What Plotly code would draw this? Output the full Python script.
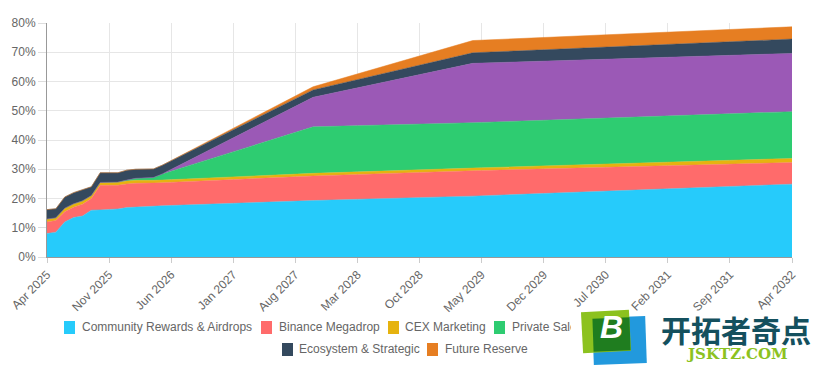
import plotly.graph_objects as go

# ---- axis labels ----
months = []
_names = ["Jan","Feb","Mar","Apr","May","Jun","Jul","Aug","Sep","Oct","Nov","Dec"]
for _i in range(85):
    _m = 3 + _i
    months.append(f"{_names[_m % 12]} {2025 + _m // 12}")
tick_labels = months[::7]
y_ticks = [0, 10, 20, 30, 40, 50, 60, 70, 80]

# ---- knot months (cumulative unlock curves change slope here) ----
knots = ["Apr 2025","May 2025","Jun 2025","Jul 2025","Aug 2025","Sep 2025","Oct 2025","Nov 2025",
         "Dec 2025","Jan 2026","Feb 2026","Apr 2026","May 2026","Oct 2027","Apr 2029","Apr 2032"]

# ---- series values, % of supply (height of each layer) ----
community = [8.0, 8.5, 12.0, 13.5, 14.0, 16.0, 16.1, 16.2, 16.4, 16.9, 17.1, 17.4, 17.5, 19.3, 20.8, 24.9]
binance   = [4.0, 4.0, 3.5, 3.5, 4.0, 4.0, 8.4, 8.3, 8.1, 8.1, 8.1, 7.9, 7.9, 8.4, 8.7, 7.4]
cex       = [1.0, 0.9, 1.2, 1.2, 1.2, 1.0, 1.0, 1.0, 1.1, 1.0, 1.0, 0.9, 0.9, 0.9, 0.9, 1.4]
private   = [0.0, 0.0, 0.0, 0.0, 0.0, 0.0, 0.0, 0.0, 0.0, 0.3, 0.7, 1.0, 2.1, 15.9, 15.5, 16.0]
purple    = [0.0, 0.0, 0.0, 0.0, 0.0, 0.0, 0.0, 0.0, 0.0, 0.0, 0.0, 0.0, 0.0, 10.1, 20.3, 19.9]
ecosystem = [3.2, 3.1, 3.8, 3.8, 3.8, 3.0, 3.3, 3.3, 3.2, 3.4, 3.1, 2.9, 3.0, 2.5, 3.6, 4.9]
reserve   = [0.0, 0.0, 0.0, 0.0, 0.0, 0.0, 0.0, 0.0, 0.0, 0.0, 0.0, 0.0, 0.0, 1.1, 4.2, 4.2]

series_names = ["Community Rewards & Airdrops", "Binance Megadrop", "CEX Marketing", "Private Sale",
                "Other Allocation", "Ecosystem & Strategic", "Future Reserve"]
series_values = [community, binance, cex, private, purple, ecosystem, reserve]
colors = ["#26cbfb", "#ff6b6b", "#e6b30f", "#2ecc71", "#9b59b6", "#34495e", "#e67e22"]

FONT = "Liberation Sans, Arial, sans-serif"
W, H = 821, 367
L, R, T, B = 47, 792, 23, 257
BODY = 8   # default page margin of the written html

fig = go.Figure()
for name, vals, col in zip(series_names, series_values, colors):
    fig.add_trace(go.Scatter(x=knots, y=vals, name=name, mode="lines", stackgroup="a",
                             fillcolor=col, line=dict(color=col, width=0.5),
                             showlegend=False, hoverinfo="skip"))

def px(x):
    return (x - L) / (R - L)
def py(y):
    return (B - y) / (B - T)

fig.update_layout(
    width=W - BODY, height=H - BODY, autosize=False, paper_bgcolor="white", plot_bgcolor="white",
    margin=dict(l=L - BODY, r=W - R, t=T - BODY, b=H - B, pad=0, autoexpand=False),
    font=dict(family=FONT, size=12, color="#666666"),
    xaxis=dict(type="category", categoryorder="array", categoryarray=months, range=[0, 84],
               tickmode="array", tickvals=tick_labels, ticktext=tick_labels, tickangle=-45,
               automargin=False,
               showgrid=True, gridcolor="#e6e6e6", gridwidth=1, ticks="outside", ticklen=5,
               tickcolor="#cccccc", showline=True, linecolor="#999999", linewidth=1,
               tickfont=dict(family=FONT, size=12, color="#666666"), fixedrange=True, zeroline=False),
    yaxis=dict(range=[0, 80], tickmode="array", tickvals=y_ticks, automargin=False,
               ticktext=[f"{v}%" for v in y_ticks], showgrid=True, gridcolor="#e6e6e6", gridwidth=1,
               showline=True, linecolor="#999999", linewidth=1, ticks="outside", ticklen=8,
               tickcolor="#dddddd", tickwidth=1,
               tickfont=dict(family=FONT, size=12, color="#666666"), fixedrange=True, zeroline=False),
    showlegend=False,
)

def box(x0, y0, x1, y1, color, angle=0):
    fig.add_annotation(xref="paper", yref="paper", x=px((x0 + x1) / 2), y=py((y0 + y1) / 2),
                       xanchor="center", yanchor="middle", width=x1 - x0, height=y1 - y0,
                       text=" ", showarrow=False, bgcolor=color, borderpad=0, borderwidth=0,
                       textangle=angle, font=dict(color=color, size=1))

def label(cx, cy, text, size, color, family=FONT, anchor="center"):
    fig.add_annotation(xref="paper", yref="paper", x=px(cx), y=py(cy), xanchor=anchor, yanchor="middle",
                       text=text, showarrow=False, borderpad=0, font=dict(family=family, size=size, color=color))

# ---- legend rows: (swatch left edge, text left edge, series index, row centre) ----
legend_rows = [(64, 81, 0, 327), (261, 278, 1, 327), (388, 404, 2, 327), (494, 511, 3, 327),
               (282, 298, 5, 349), (427, 444, 6, 349)]
for x0, tx, i, cy in legend_rows:
    box(x0, cy - 6, x0 + 11, cy + 7, colors[i])
    label(tx, cy, series_names[i], 12, "#666666", anchor="left")

# ---- website watermark that sits over the legend in the reference ----
box(571, 312, 821, 367, "#ffffff")
box(593, 317, 646, 364, "#2299dd", angle=-2)
box(582, 311, 630, 352, "#8cc21f", angle=-3)
box(593, 318, 630, 351, "#1f7d1f", angle=-2)
label(611, 327, "<b><i>B</i></b>", 32, "#ffffff")
label(736, 329, "<b>开拓者奇点</b>", 30, "#14505e", "Noto Sans CJK SC")
label(737, 354, "<b>JSKTZ.COM</b>", 15, "#8cc21f", "DejaVu Serif")

fig.write_html("out.html")
